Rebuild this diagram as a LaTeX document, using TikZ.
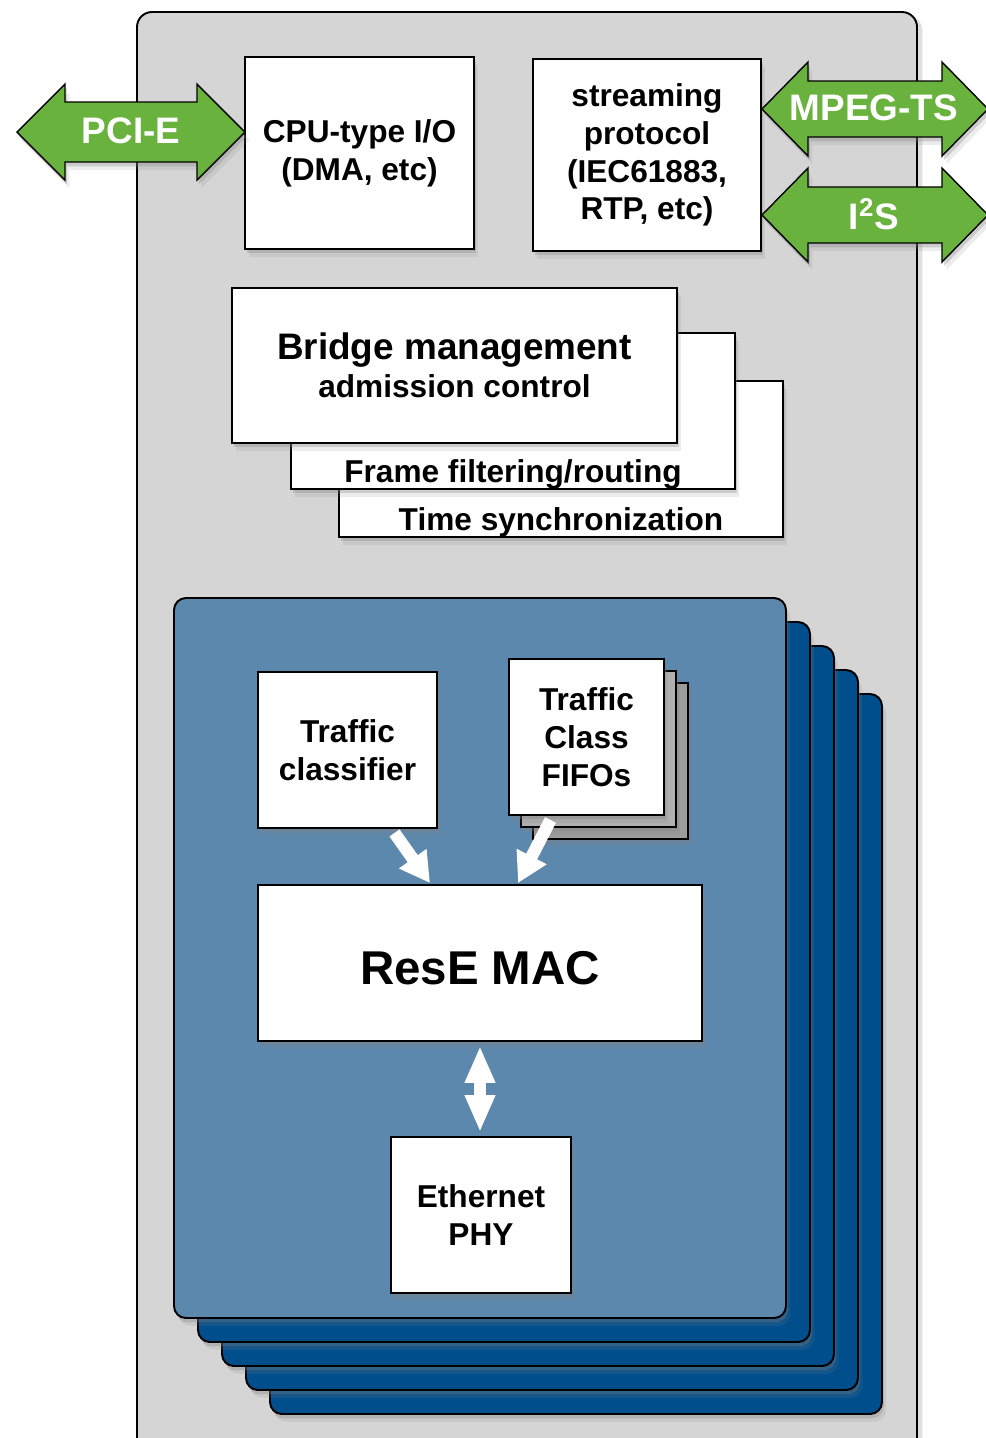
\documentclass[tikz,border=0pt]{standalone}
\usepackage{fontspec}
\setmainfont{Liberation Sans}
\usetikzlibrary{positioning,arrows.meta,shadows,calc}
\definecolor{boardgray}{HTML}{D5D5D5}
\definecolor{portblue}{HTML}{5D88AD}
\definecolor{portdark}{HTML}{004E8C}
\definecolor{ifgreen}{HTML}{6AB23E}
\definecolor{fifogray}{HTML}{9C9C9C}

\begin{document}
\begin{tikzpicture}[x=0.02cm,y=-0.02cm,
    softshadow/.style={drop shadow={shadow xshift=2.5pt,shadow yshift=-4.5pt,opacity=0.15},
                       drop shadow={shadow xshift=1pt,shadow yshift=-2.5pt,opacity=0.3}},
    board/.style={draw,line width=1.1pt,fill=boardgray,rounded corners=0.3cm,drop shadow={shadow xshift=3pt,shadow yshift=-2pt,opacity=0.25}},
    portback/.style={draw,line width=1.1pt,fill=portdark,rounded corners=0.24cm,softshadow},
    portfront/.style={portback,fill=portblue},
    box/.style={draw,line width=1.1pt,fill=white,inner sep=0pt,align=center,font=\bfseries\fontsize{18}{21.5}\selectfont,softshadow},
    fifoback/.style={box,fill=fifogray},
    lbl/.style={inner sep=0pt,font=\bfseries\fontsize{18}{21.5}\selectfont},
    iface/.style={draw,line width=0.8pt,fill=ifgreen,line join=miter,softshadow},
    ifacetext/.style={inner sep=0pt,text=white,font=\bfseries\fontsize{21}{25}\selectfont},
    flow/.style={draw=white,line width=7pt,-{Triangle[length=17pt,width=18pt]}},
    link/.style={draw=white,line width=6.5pt,{Triangle[length=21pt,width=16pt]}-{Triangle[length=21pt,width=16pt]}}]
    \useasboundingbox (0,0) rectangle (985,1438);
    % --- board ---
    \draw[board] (137,12) rectangle (917,1470);
    % --- host side ---
    \node[box,minimum width=4.58cm,minimum height=3.84cm] (cpu) at (359.5,153) {CPU-type I/O\\(DMA, etc)};
    \node[box,minimum width=4.56cm,minimum height=3.84cm] (stream) at (647,155) {streaming\\protocol\\(IEC61883,\\RTP, etc)};
    \draw[iface] (17,132) -- (65,84) -- (65,102) -- (197,102) -- (197,84) -- (245,132) -- (197,180) -- (197,162) -- (65,162) -- (65,180) -- cycle;
    \node[ifacetext] (pcie) at (131,131) {PCI-E};
    \foreach \y/\t/\n in {109/{MPEG-TS}/mpeg,215/{I\textsuperscript{2}S}/iis}{
      \draw[iface] (762,\y) -- (808,{\y-47}) -- (808,{\y-28}) -- (942,{\y-28}) -- (942,{\y-47}) -- (988,\y)
        -- (942,{\y+47}) -- (942,{\y+28}) -- (808,{\y+28}) -- (808,{\y+47}) -- cycle;
      \node[ifacetext] (\n) at (874,{\y-1}) {\t};
    }
    % --- bridge stack ---
    \node[box,minimum width=8.88cm,minimum height=3.12cm] (sync) at (561,459) {};
    \node[lbl,above=0.5pt of sync.south] (synctext) {Time synchronization};
    \node[box,minimum width=8.88cm,minimum height=3.12cm] (frame) at (513,411) {};
    \node[lbl,above=0.5pt of frame.south] (frametext) {Frame filtering/routing};
    \node[box,minimum width=8.9cm,minimum height=3.1cm] (bridge) at (454.5,365.5) {{\fontsize{21}{25}\selectfont Bridge management}\\admission control};
    % --- ports ---
    \foreach \k in {4,3,2,1}
      \draw[portback] ({174+24*\k},{598+24*\k}) rectangle ({786+24*\k},{1318+24*\k});
    \draw[portfront] (174,598) rectangle (786,1318);
    \node[box,minimum width=3.58cm,minimum height=3.12cm] (cls) at (347.5,750) {Traffic\\classifier};
    \node[fifoback,minimum width=3.1cm,minimum height=3.12cm] (fifo3) at (610.5,761) {};
    \node[fifoback,fill=fifogray!80,minimum width=3.1cm,minimum height=3.12cm] (fifo2) at (598.5,749) {};
    \node[box,minimum width=3.1cm,minimum height=3.12cm] (fifo) at (586.5,737) {Traffic\\Class\\FIFOs};
    \node[box,minimum width=8.88cm,minimum height=3.12cm,text height=25pt,font=\bfseries\fontsize{27}{32}\selectfont] (mac) at (480,963) {ResE MAC};
    \node[box,minimum width=3.6cm,minimum height=3.12cm] (phy) at (481,1215) {Ethernet\\PHY};
    \draw[flow] ($(cls.south)+(47,4)$) -- ($(mac.north)+(-50,-1)$);
    \draw[flow] ($(fifo.south)+(-36,4)$) -- ($(mac.north)+(38,-1)$);
    \draw[link] ($(mac.south)+(0,4)$) -- ($(phy.north)+(-1,-4)$);
\end{tikzpicture}
\end{document}
